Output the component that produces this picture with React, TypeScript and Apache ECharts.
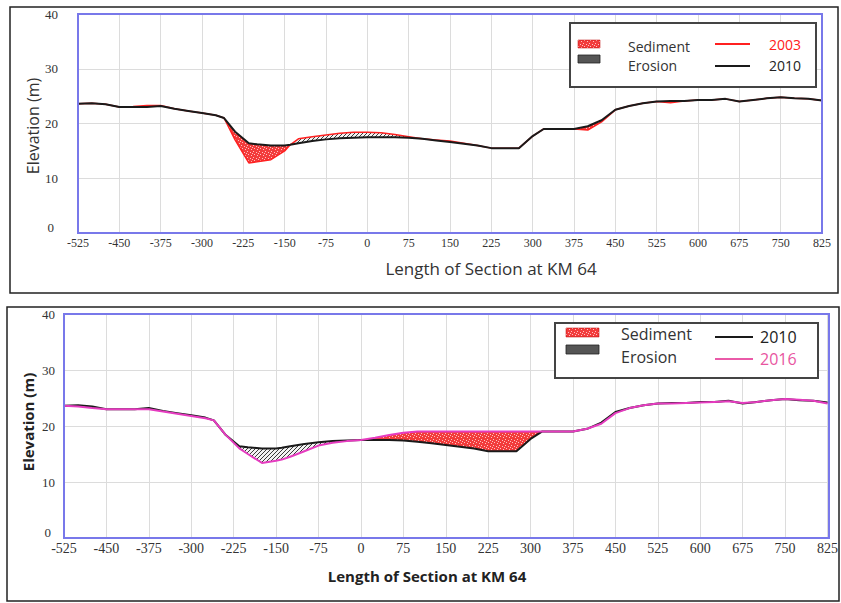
import React, { useEffect, useRef } from "react";
import * as echarts from "echarts";

// Stations along the cross-section (m)
const stations = [
  -525, -500, -475, -450, -425, -400, -375, -350, -325, -300, -275, -260, -240, -215, -200, -175,
  -150, -140, -125, -100, -75, -50, -25, 0, 25, 50, 75, 100, 125, 150, 175, 200, 225, 250, 275,
  300, 320, 350, 375, 400, 425, 450, 475, 500, 525, 550, 575, 600, 625, 650, 675, 700, 725, 750,
  775, 800, 825,
];

// Elevations (m)
const elev2003 = [
  23.6, 23.7, 23.5, 23.0, 23.1, 23.3, 23.3, 22.7, 22.3, 21.9, 21.5, 21.0, 17.0, 12.8, 13.0, 13.4,
  15.0, 16.1, 17.2, 17.6, 17.9, 18.2, 18.4, 18.4, 18.3, 18.0, 17.6, 17.2, 17.0, 16.8, 16.4, 16.0,
  15.5, 15.5, 15.5, 17.7, 19.0, 19.0, 19.0, 18.8, 20.3, 22.5, 23.2, 23.7, 24.0, 23.8, 24.1, 24.3,
  24.3, 24.5, 24.0, 24.3, 24.6, 24.8, 24.6, 24.5, 24.2,
];
const elev2010 = [
  23.6, 23.7, 23.5, 23.0, 23.0, 23.0, 23.2, 22.7, 22.3, 21.9, 21.5, 21.0, 18.5, 16.4, 16.2, 16.0,
  16.0, 16.1, 16.4, 16.8, 17.1, 17.3, 17.4, 17.5, 17.5, 17.5, 17.4, 17.2, 16.9, 16.6, 16.3, 16.0,
  15.5, 15.5, 15.5, 17.7, 19.0, 19.0, 19.0, 19.5, 20.6, 22.5, 23.2, 23.7, 24.0, 24.1, 24.1, 24.3,
  24.3, 24.5, 24.0, 24.3, 24.6, 24.8, 24.6, 24.5, 24.2,
];
const elev2016 = [
  23.6, 23.5, 23.2, 23.0, 23.0, 23.0, 23.0, 22.6, 22.2, 21.8, 21.4, 21.0, 18.5, 16.0, 15.0, 13.4,
  13.8, 14.0, 14.5, 15.5, 16.5, 17.0, 17.3, 17.5, 17.9, 18.4, 18.8, 19.0, 19.0, 19.0, 19.0, 19.0,
  19.0, 19.0, 19.0, 19.0, 19.0, 19.0, 19.0, 19.5, 20.4, 22.3, 23.2, 23.7, 24.0, 24.0, 24.1, 24.2,
  24.3, 24.4, 24.1, 24.3, 24.6, 24.8, 24.7, 24.5, 24.0,
];

const xTitle = "Length of Section at KM 64";
const yTitle = "Elevation (m)";

type Region = { kind: "sed" | "ero"; pts: number[][] };

// Build polygons between two profiles: "sed" where later is above earlier, "ero" where below.
function buildRegions(earlier: number[], later: number[]): Region[] {
  const regions: Region[] = [];
  let cur: { kind: "sed" | "ero"; up: number[][]; lo: number[][] } | null = null;
  const close = () => {
    if (cur && cur.up.length > 1) regions.push({ kind: cur.kind, pts: [...cur.up, ...cur.lo.slice().reverse()] });
    cur = null;
  };
  for (let i = 0; i < stations.length; i++) {
    const d = later[i] - earlier[i];
    const x = stations[i];
    if (i > 0) {
      const dp = later[i - 1] - earlier[i - 1];
      if (dp !== 0 && d !== 0 && Math.sign(dp) !== Math.sign(d)) {
        const t = dp / (dp - d);
        const xc = stations[i - 1] + t * (x - stations[i - 1]);
        const yc = earlier[i - 1] + t * (earlier[i] - earlier[i - 1]);
        if (cur) {
          cur.up.push([xc, yc]);
          cur.lo.push([xc, yc]);
        }
        close();
        cur = { kind: d > 0 ? "sed" : "ero", up: [[xc, yc]], lo: [[xc, yc]] };
      }
    }
    if (d === 0) {
      if (cur) {
        cur.up.push([x, later[i]]);
        cur.lo.push([x, earlier[i]]);
      }
      close();
      cur = { kind: "sed", up: [[x, later[i]]], lo: [[x, earlier[i]]] };
      continue;
    }
    const kind = d > 0 ? "sed" : "ero";
    if (!cur) cur = { kind, up: [], lo: [] };
    cur.kind = kind;
    cur.up.push([x, Math.max(later[i], earlier[i])]);
    cur.lo.push([x, Math.min(later[i], earlier[i])]);
  }
  close();
  return regions.filter((r) => r.pts.length >= 3);
}

function makeSedimentCanvas() {
  const c = document.createElement("canvas");
  c.width = 6;
  c.height = 6;
  const g = c.getContext("2d")!;
  g.fillStyle = "#f23c3c";
  g.fillRect(0, 0, 6, 6);
  g.fillStyle = "rgba(255,200,200,0.95)";
  g.fillRect(1, 1, 1, 1);
  g.fillRect(4, 2, 1, 1);
  g.fillRect(2, 4, 1, 1);
  g.fillRect(5, 5, 1, 1);
  g.fillRect(0, 3, 1, 1);
  return c;
}
function makeErosionCanvas() {
  const c = document.createElement("canvas");
  c.width = 4;
  c.height = 4;
  const g = c.getContext("2d")!;
  g.fillStyle = "#f2f2f2";
  g.fillRect(0, 0, 4, 4);
  g.fillStyle = "#3a3a3a";
  for (let i = 0; i < 4; i++) g.fillRect(i, 3 - i, 1, 1);
  return c;
}

export default function App() {
  const ref = useRef<HTMLDivElement>(null);
  useEffect(() => {
    if (!ref.current) return;
    const chart = echarts.init(ref.current, undefined, { renderer: "svg" });
    const sedPat: any = { image: makeSedimentCanvas(), repeat: "repeat" };
    const eroPat: any = { image: makeErosionCanvas(), repeat: "repeat" };
    const magenta = "#e63cc0";

    const band = (earlier: number[], later: number[], idx: number) => {
      const regs = buildRegions(earlier, later);
      return {
        type: "custom",
        xAxisIndex: idx,
        yAxisIndex: idx,
        silent: true,
        data: regs.map((r) => r.pts[0]),
        renderItem: (params: any, api: any) => {
          const r = regs[params.dataIndex];
          return {
            type: "polygon",
            shape: { points: r.pts.map((p) => api.coord(p)) },
            style: { fill: r.kind === "sed" ? sedPat : eroPat, stroke: "none" },
          };
        },
        z: 1,
      };
    };

    const line = (vals: number[], idx: number, color: string, width: number) => ({
      type: "line",
      xAxisIndex: idx,
      yAxisIndex: idx,
      symbol: "none",
      silent: true,
      data: stations.map((s, i) => [s, vals[i]]),
      lineStyle: { color, width },
      z: 3,
    });

    const xAxis = (idx: number, fontSize: number, margin: number) => ({
      type: "value",
      gridIndex: idx,
      min: -525,
      max: 825,
      interval: 75,
      axisLine: { show: false },
      axisTick: { show: false },
      axisLabel: { fontFamily: "Liberation Serif", fontSize, color: "#333", margin },
      splitLine: { show: true, lineStyle: { color: "#dcdcdc", width: 1 } },
    });
    const yAxis = (idx: number, margin: number) => ({
      type: "value",
      gridIndex: idx,
      min: 0,
      max: 40,
      interval: 10,
      axisLine: { show: false },
      axisTick: { show: false },
      axisLabel: {
        fontFamily: "Liberation Serif",
        fontSize: 13,
        color: "#333",
        margin,
        formatter: (v: number) => (v === 0 ? "{z|0}" : String(v)),
        rich: { z: { fontFamily: "Liberation Serif", fontSize: 13, color: "#333", padding: [0, 4, 12, 0] } },
      },
      splitLine: { show: true, lineStyle: { color: "#dcdcdc", width: 1 } },
    });

    const text = (x: number, y: number, t: string, font: string, fill: string, extra: any = {}) => ({
      type: "text",
      x,
      y,
      style: { text: t, font, fill, textVerticalAlign: "middle", ...extra },
    });
    const border = (x: number, y: number, w: number, h: number) => ({
      type: "rect",
      shape: { x, y, width: w, height: h },
      style: { fill: "none", stroke: "#7878ea", lineWidth: 2 },
      silent: true,
      z: 40,
    });

    chart.setOption({
      animation: false,
      backgroundColor: "#fff",
      grid: [
        { left: 78, top: 14, width: 744, height: 219 },
        { left: 64, top: 314, width: 765, height: 224 },
      ],
      xAxis: [xAxis(0, 12, 4), xAxis(1, 14, 3)],
      yAxis: [yAxis(0, 20), yAxis(1, 9)],
      series: [
        band(elev2003, elev2010, 0),
        line(elev2003, 0, "#ff2020", 1.5),
        line(elev2010, 0, "#1a1a1a", 2),
        band(elev2010, elev2016, 1),
        line(elev2010, 1, "#1a1a1a", 2),
        line(elev2016, 1, magenta, 2),
      ],
      graphic: [
        { type: "rect", shape: { x: 10, y: 7, width: 828, height: 286 }, style: { fill: "none", stroke: "#222", lineWidth: 1.5 }, z: 100 },
        { type: "rect", shape: { x: 7, y: 307, width: 832, height: 294 }, style: { fill: "none", stroke: "#222", lineWidth: 1.5 }, z: 100 },
        border(78, 14, 744, 219),
        border(64, 314, 765, 224),
        // top titles
        text(491, 268, xTitle, "17px 'Open Sans'", "#333", { textAlign: "center" }),
        { ...text(0, 0, yTitle, "16px 'Open Sans'", "#333", { textAlign: "center" }), x: 33, y: 126, rotation: Math.PI / 2 },
        // bottom titles
        text(427, 576, xTitle, "bold 15px 'Open Sans'", "#222", { textAlign: "center" }),
        { ...text(0, 0, yTitle, "bold 15px 'Open Sans'", "#222", { textAlign: "center" }), x: 28, y: 422, rotation: Math.PI / 2 },
        // top legend
        { type: "rect", shape: { x: 570, y: 23, width: 246, height: 64 }, style: { fill: "#fff", stroke: "#444", lineWidth: 2 }, z: 50 },
        { type: "rect", shape: { x: 578, y: 40, width: 22, height: 8 }, style: { fill: sedPat, stroke: "#b00", lineWidth: 0.5 }, z: 51 },
        { type: "rect", shape: { x: 578, y: 55, width: 22, height: 8 }, style: { fill: "#555", stroke: "#222", lineWidth: 0.8 }, z: 51 },
        { ...text(628, 46, "Sediment", "14px 'Open Sans'", "#333"), z: 51 },
        { ...text(628, 65, "Erosion", "14px 'Open Sans'", "#333"), z: 51 },
        { type: "line", shape: { x1: 715, y1: 44, x2: 750, y2: 44 }, style: { stroke: "#ff2020", lineWidth: 2 }, z: 51 },
        { type: "line", shape: { x1: 715, y1: 66, x2: 750, y2: 66 }, style: { stroke: "#1a1a1a", lineWidth: 2 }, z: 51 },
        { ...text(769, 44, "2003", "14px 'Open Sans'", "#ff2020"), z: 51 },
        { ...text(769, 65, "2010", "14px 'Open Sans'", "#222"), z: 51 },
        // bottom legend
        { type: "rect", shape: { x: 555, y: 323, width: 263, height: 55 }, style: { fill: "#fff", stroke: "#444", lineWidth: 2 }, z: 50 },
        { type: "rect", shape: { x: 566, y: 328, width: 33, height: 9 }, style: { fill: sedPat, stroke: "#b00", lineWidth: 0.5 }, z: 51 },
        { type: "rect", shape: { x: 566, y: 345, width: 33, height: 9 }, style: { fill: "#555", stroke: "#222", lineWidth: 0.8 }, z: 51 },
        { ...text(621, 334, "Sediment", "16px 'Open Sans'", "#333"), z: 51 },
        { ...text(621, 357, "Erosion", "16px 'Open Sans'", "#333"), z: 51 },
        { type: "line", shape: { x1: 715, y1: 337, x2: 753, y2: 337 }, style: { stroke: "#1a1a1a", lineWidth: 2 }, z: 51 },
        { type: "line", shape: { x1: 715, y1: 359, x2: 753, y2: 359 }, style: { stroke: "#ea5aa8", lineWidth: 2 }, z: 51 },
        { ...text(760, 337, "2010", "16px 'Open Sans'", "#222"), z: 51 },
        { ...text(760, 359, "2016", "16px 'Open Sans'", "#e8559f"), z: 51 },
      ],
    });
    return () => chart.dispose();
  }, []);
  return (
    <div
      ref={ref}
      style={{ position: "absolute", left: 0, top: 0, width: 841, height: 603, background: "#fff" }}
    />
  );
}
